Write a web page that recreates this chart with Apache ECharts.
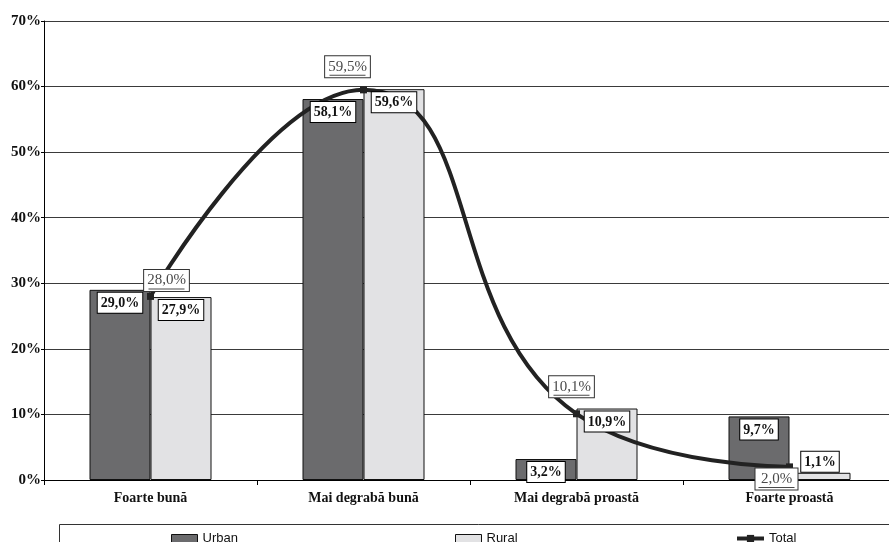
<!DOCTYPE html>
<html>
<head>
<meta charset="utf-8">
<script src="https://cdn.jsdelivr.net/npm/echarts@6/dist/echarts.min.js"></script>
<style>
  html, body { margin: 0; padding: 0; background: #fff; overflow: hidden; }
  /* the plot runs slightly past the right edge of the view */
  #chart { width: 896px; height: 542px; }
</style>
</head>
<body>
<div id="chart"></div>
<script>
// Evaluation categories and shares (%) per area of residence
const categories = ['Foarte bună', 'Mai degrabă bună', 'Mai degrabă proastă', 'Foarte proastă'];
const urbanValues = [29.0, 58.1, 3.2, 9.7];
const ruralValues = [27.9, 59.6, 10.9, 1.1];
const totalValues = [28.0, 59.5, 10.1, 2.0];
const yTicks = [0, 10, 20, 30, 40, 50, 60, 70];

const serif = "'Liberation Serif', 'Times New Roman', serif";
const sans = "'Liberation Sans', Arial, sans-serif";

function pct(v) {
  return v.toFixed(1).replace('.', ',') + '%';
}

// Boxed value label used on the bars
const boxLabel = {
  show: true,
  position: 'insideTop',
  distance: 3,
  formatter: p => pct(p.value),
  fontFamily: serif,
  fontWeight: 'bold',
  fontSize: 14,
  lineHeight: 15,
  color: '#111',
  backgroundColor: '#fff',
  borderColor: '#000',
  borderWidth: 1,
  padding: [3, 3, 2, 3]
};

// Label placement for the Total curve, relative to each point
const totalLabelOffsets = [[16, -16], [-16, -23], [-5, -27], [-13, 12]];
// Rural label placement (small bars get the label above)
const ruralLabelPos = ['insideTop', 'insideTop', 'insideTop', 'top'];

const barWidth = 61;

const chart = echarts.init(document.getElementById('chart'), null, { renderer: 'canvas' });

const legendText = { fontFamily: sans, fontSize: 13, color: '#111' };

const option = {
  animation: false,
  backgroundColor: '#fff',
  grid: { left: 44, right: 0, top: 21, bottom: 62, containLabel: false },
  xAxis: [
    {
      type: 'category',
      data: categories,
      boundaryGap: true,
      axisLine: { lineStyle: { color: '#000', width: 1 } },
      axisTick: { show: true, length: 5, lineStyle: { color: '#000' } },
      axisLabel: {
        margin: 11,
        fontFamily: serif,
        fontWeight: 'bold',
        fontSize: 14,
        color: '#111'
      }
    },
    // hidden twin axis carrying the bar value boxes
    {
      type: 'category',
      data: categories,
      boundaryGap: true,
      position: 'bottom',
      show: false
    }
  ],
  yAxis: {
    type: 'value',
    min: yTicks[0],
    max: yTicks[yTicks.length - 1],
    interval: 10,
    axisLine: { show: true, lineStyle: { color: '#000', width: 1 } },
    axisTick: { show: true, length: 3, lineStyle: { color: '#000' } },
    axisLabel: {
      margin: 3,
      fontFamily: serif,
      fontWeight: 'bold',
      fontSize: 15,
      color: '#111',
      formatter: v => v + '%'
    },
    splitLine: { show: true, lineStyle: { color: '#3a3a3a', width: 1 } }
  },
  legend: [
    {
      data: [{ name: 'Urban', icon: 'rect' }], left: 171, top: 532, padding: 0,
      itemWidth: 26, itemHeight: 8, textStyle: legendText,
      itemStyle: { borderColor: '#111', borderWidth: 1 }
    },
    {
      data: [{ name: 'Rural', icon: 'rect' }], left: 455, top: 532, padding: 0,
      itemWidth: 26, itemHeight: 8, textStyle: legendText,
      itemStyle: { borderColor: '#111', borderWidth: 1 }
    },
    {
      data: ['Total'], left: 735, top: 532, padding: 0,
      itemWidth: 27, itemHeight: 9, textStyle: legendText,
      lineStyle: { width: 4, color: '#222' }
    }
  ],
  graphic: [
    {
      type: 'rect',
      shape: { x: 59.5, y: 524.5, width: 900, height: 40 },
      style: { fill: 'none', stroke: '#333', lineWidth: 1 },
      silent: true
    }
  ],
  series: [
    {
      name: 'Urban',
      type: 'bar',
      data: urbanValues,
      barWidth: barWidth,
      barGap: '0%',
      itemStyle: { color: '#6b6b6d', borderColor: '#111', borderWidth: 1 },
      z: 2
    },
    {
      name: 'Rural',
      type: 'bar',
      data: ruralValues,
      barWidth: barWidth,
      barGap: '0%',
      itemStyle: { color: '#e2e2e4', borderColor: '#111', borderWidth: 1 },
      z: 2
    },
    {
      name: 'Total',
      type: 'line',
      data: totalValues.map((v, i) => ({
        value: v,
        label: { offset: totalLabelOffsets[i] }
      })),
      smooth: 0.5,
      symbol: 'rect',
      symbolSize: 7,
      showAllSymbol: true,
      lineStyle: { color: '#222', width: 4 },
      itemStyle: { color: '#222' },
      z: 5,
      label: {
        show: true,
        position: 'inside',
        formatter: p => '{v|' + pct(p.value) + '}\n{u|}',
        backgroundColor: '#fff',
        borderColor: '#333',
        borderWidth: 1,
        padding: [3, 3, 1, 3],
        rich: {
          v: {
            fontFamily: serif,
            fontSize: 15,
            lineHeight: 15,
            color: '#4a4a4a'
          },
          u: {
            width: 36,
            height: 1,
            lineHeight: 2,
            backgroundColor: '#4a4a4a'
          }
        }
      }
    },
    // Value boxes of the bars, drawn above the Total curve
    {
      name: 'Urban labels',
      type: 'bar',
      xAxisIndex: 1,
      data: urbanValues,
      barWidth: barWidth,
      barGap: '0%',
      itemStyle: { color: 'rgba(0,0,0,0)' },
      label: boxLabel,
      silent: true,
      z: 8
    },
    {
      name: 'Rural labels',
      type: 'bar',
      xAxisIndex: 1,
      data: ruralValues.map((v, i) => ({
        value: v,
        label: { position: ruralLabelPos[i], distance: ruralLabelPos[i] === 'top' ? 1 : 3 }
      })),
      barWidth: barWidth,
      barGap: '0%',
      itemStyle: { color: 'rgba(0,0,0,0)' },
      label: boxLabel,
      silent: true,
      z: 8
    }
  ]
};

chart.setOption(option);
</script>
</body>
</html>
